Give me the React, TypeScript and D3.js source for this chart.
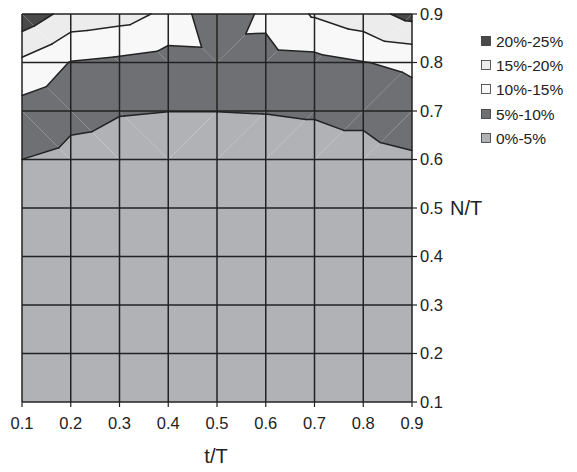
import React from "react";
import * as d3 from "d3";

const xValues = [0.1, 0.2, 0.3, 0.4, 0.5, 0.6, 0.7, 0.8, 0.9];
const yValues = [0.1, 0.2, 0.3, 0.4, 0.5, 0.6, 0.7, 0.8, 0.9];
const xTickLabels = ["0.1", "0.2", "0.3", "0.4", "0.5", "0.6", "0.7", "0.8", "0.9"];
const yTickLabels = ["0.1", "0.2", "0.3", "0.4", "0.5", "0.6", "0.7", "0.8", "0.9"];
const bandLabels = ["0%-5%", "5%-10%", "10%-15%", "15%-20%", "20%-25%"];
const bandBreaks = [0, 5, 10, 15, 20, 25];
const bandColors = ["#b1b2b6", "#6f7074", "#f8f8f8", "#ececec", "#4a4a4b"];
const contourLevels = [5, 10, 15, 20];

// surface values (%) for each N/T row (0.1 .. 0.9), columns t/T 0.1 .. 0.9
const row01 = [0.6, 0.5, 0.5, 0.5, 0.5, 0.5, 0.5, 0.5, 0.6];
const row02 = [1.0, 0.9, 0.8, 0.8, 0.8, 0.8, 0.8, 0.9, 1.0];
const row03 = [1.6, 1.4, 1.3, 1.2, 1.2, 1.2, 1.3, 1.4, 1.6];
const row04 = [2.4, 2.1, 1.9, 1.8, 1.8, 1.8, 1.9, 2.1, 2.4];
const row05 = [3.5, 3.0, 2.7, 2.6, 2.5, 2.6, 2.7, 3.0, 3.3];
const row06 = [4.99, 4.0, 3.67, 3.5, 3.5, 3.5, 3.5, 3.5, 4.36];
const row07 = [8.13, 6.0, 5.17, 5.02, 5.02, 5.1, 5.32, 6.0, 7.8];
const row08 = [13.97, 9.8, 8.96, 7.9, 8.2, 8.1, 8.5, 9.84, 11.0];
const row09 = [23.4, 18.1, 17.0, 13.9, 5.8, 11.25, 15.5, 17.9, 21.65];
const surface = [row01, row02, row03, row04, row05, row06, row07, row08, row09];

type P = [number, number, number];

function clip(poly: P[], t: number, keepAbove: boolean): P[] {
  const out: P[] = [];
  for (let k = 0; k < poly.length; k++) {
    const a = poly[k];
    const b = poly[(k + 1) % poly.length];
    const ina = keepAbove ? a[2] >= t : a[2] < t;
    const inb = keepAbove ? b[2] >= t : b[2] < t;
    if (ina) out.push(a);
    if (ina !== inb) {
      const s = (t - a[2]) / (b[2] - a[2]);
      out.push([a[0] + s * (b[0] - a[0]), a[1] + s * (b[1] - a[1]), t]);
    }
  }
  return out;
}

function bandOf(v: number) {
  for (let b = 0; b < bandBreaks.length - 1; b++) {
    if (v >= bandBreaks[b] && v < bandBreaks[b + 1]) return b;
  }
  return v < bandBreaks[0] ? 0 : bandBreaks.length - 2;
}

export default function App() {
  const x = d3.scaleLinear().domain([0.1, 0.9]).range([22, 412]);
  const y = d3.scaleLinear().domain([0.1, 0.9]).range([402, 14]);
  const line = d3
    .line<P>()
    .x((p) => x(p[0]))
    .y((p) => y(p[1]));

  const fills: { d?: string; rect?: number[]; color: string }[] = [];
  const segs: [number, number, number, number][] = [];

  for (let j = 0; j < yValues.length - 1; j++) {
    for (let i = 0; i < xValues.length - 1; i++) {
      const bl: P = [xValues[i], yValues[j], surface[j][i]];
      const br: P = [xValues[i + 1], yValues[j], surface[j][i + 1]];
      const tl: P = [xValues[i], yValues[j + 1], surface[j + 1][i]];
      const tr: P = [xValues[i + 1], yValues[j + 1], surface[j + 1][i + 1]];
      const bands = [bl, br, tl, tr].map((p) => bandOf(p[2]));
      const uniform = bands.every((b) => b === bands[0]);
      if (uniform) {
        fills.push({
          rect: [x(bl[0]), y(tl[1]), x(br[0]) - x(bl[0]), y(bl[1]) - y(tl[1])],
          color: bandColors[bands[0]],
        });
        continue;
      }
      const slash = Math.max(tr[2], bl[2]) >= Math.max(tl[2], br[2]);
      const tris: P[][] = slash
        ? [
            [tl, tr, bl],
            [tr, br, bl],
          ]
        : [
            [tl, tr, br],
            [tl, br, bl],
          ];
      for (const tri of tris) {
        for (let b = 0; b < bandColors.length; b++) {
          let poly = clip(tri, bandBreaks[b], true);
          if (poly.length >= 3) poly = clip(poly, bandBreaks[b + 1], false);
          if (poly.length >= 3) {
            fills.push({ d: line(poly) + "Z", color: bandColors[b] });
          }
        }
        for (const t of contourLevels) {
          const pts: [number, number][] = [];
          for (let k = 0; k < 3; k++) {
            const a = tri[k];
            const c = tri[(k + 1) % 3];
            if (a[2] >= t !== c[2] >= t) {
              const s = (t - a[2]) / (c[2] - a[2]);
              pts.push([a[0] + s * (c[0] - a[0]), a[1] + s * (c[1] - a[1])]);
            }
          }
          if (pts.length === 2) {
            segs.push([x(pts[0][0]), y(pts[0][1]), x(pts[1][0]), y(pts[1][1])]);
          }
        }
      }
    }
  }

  const font = "'Liberation Sans', Arial, sans-serif";
  const ink = "#222";
  const legendY = [41, 65, 89, 114, 138];

  return (
    <svg
      width={577}
      height={472}
      style={{ position: "absolute", left: 0, top: 0, background: "#fff" }}
      fontFamily={font}
    >
      <g>
        {fills.map((f, k) =>
          f.rect ? (
            <rect key={k} x={f.rect[0]} y={f.rect[1]} width={f.rect[2]} height={f.rect[3]} fill={f.color} />
          ) : (
            <path key={k} d={f.d} fill={f.color} />
          )
        )}
      </g>
      <g stroke={ink} strokeWidth={1.5} strokeLinecap="round">
        {segs.map((s, k) => (
          <line key={k} x1={s[0]} y1={s[1]} x2={s[2]} y2={s[3]} />
        ))}
      </g>
      <g stroke={ink} strokeWidth={1.5}>
        {xValues.map((v, k) => (
          <line key={"gx" + k} x1={x(v)} x2={x(v)} y1={y(0.9)} y2={y(0.1)} />
        ))}
        {yValues.map((v, k) => (
          <line key={"gy" + k} x1={x(0.1)} x2={x(0.9)} y1={y(v)} y2={y(v)} />
        ))}
      </g>
      <g stroke={ink} strokeWidth={1.2}>
        {xValues.map((v, k) => (
          <line key={"tx" + k} x1={x(v)} x2={x(v)} y1={y(0.1)} y2={y(0.1) + 5} />
        ))}
        {yValues.map((v, k) => (
          <line key={"ty" + k} x1={x(0.9)} x2={x(0.9) + 5} y1={y(v)} y2={y(v)} />
        ))}
      </g>
      <g fontSize={16.5} fill="#222">
        {xValues.map((v, k) => (
          <text key={"lx" + k} x={x(v)} y={429} textAnchor="middle">
            {xTickLabels[k]}
          </text>
        ))}
        {yValues.map((v, k) => (
          <text key={"ly" + k} x={420} y={y(v)} dy="0.36em">
            {yTickLabels[k]}
          </text>
        ))}
      </g>
      <text x={216} y={463} textAnchor="middle" fontSize={20} fill="#222">
        t/T
      </text>
      <text x={450} y={y(0.5)} dy="0.36em" fontSize={20} fill="#222">
        N/T
      </text>
      <g>
        {bandLabels
          .map((lab, b) => ({ lab, b }))
          .reverse()
          .map(({ lab, b }, k) => (
            <g key={lab}>
              <rect
                x={481.5}
                y={legendY[k] - 4.5}
                width={9}
                height={9}
                fill={bandColors[b]}
                stroke="#333"
                strokeWidth={0.8}
              />
              <text x={496} y={legendY[k]} dy="0.36em" fontSize={15.5} fill="#222">
                {lab}
              </text>
            </g>
          ))}
      </g>
    </svg>
  );
}
